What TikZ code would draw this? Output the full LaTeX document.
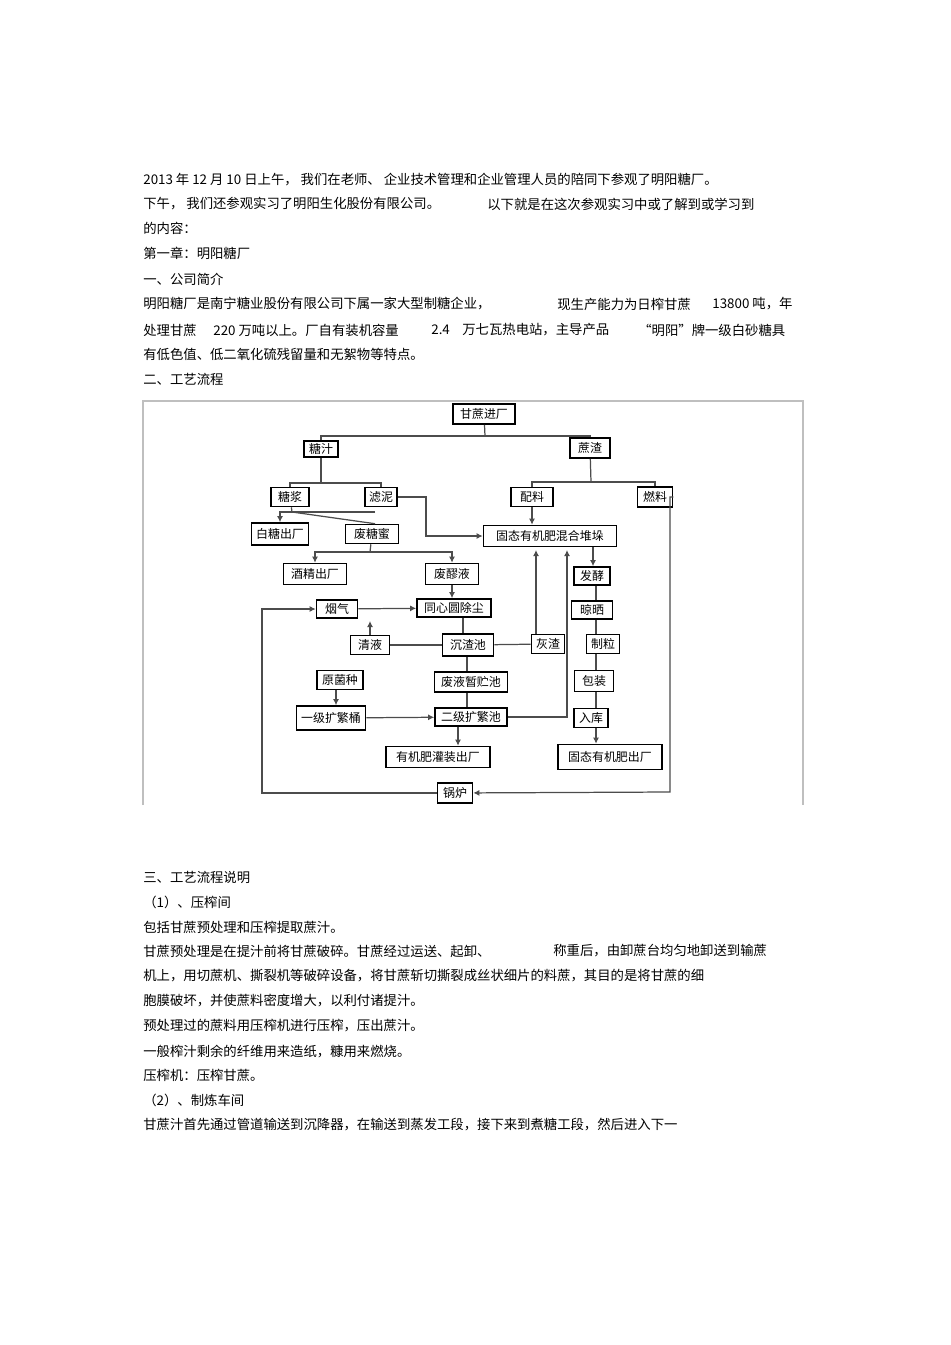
\documentclass[tikz,border=0pt]{standalone}
\usepackage{fontspec}
\setmainfont{Noto Sans CJK SC}
\usetikzlibrary{arrows.meta}
\begin{document}
\begin{tikzpicture}[x=0.02cm, y=-0.02cm]
		\tikzset{bx/.style 2 args={draw=black, line width=0.9pt, inner sep=0pt, minimum width=#1*0.02cm, minimum height=#2*0.02cm, font=\fontsize{6.8}{8}\selectfont},
			ln/.style={draw=black!70, line width=0.7pt},
			ar/.style={ln, -{Latex[length=3.5pt, width=3.5pt]}},
			tx/.style={anchor=west, inner sep=0pt, font=\fontsize{7.6}{9}\selectfont}};
		\useasboundingbox (0,0) rectangle (950,1345);

		% page text
		\node[tx] (t1) at (143,180) {2013 年 12 月 10 日上午，\ 我们在老师、\ 企业技术管理和企业管理人员的陪同下参观了明阳糖厂。};
		\node[tx] (t2) at (143,204) {下午，\ 我们还参观实习了明阳生化股份有限公司。};
		\node[tx] (t2b) at (487,204) {以下就是在这次参观实习中或了解到或学习到};
		\node[tx] (t3) at (143,228) {的内容：};
		\node[tx] (t4) at (143,253) {第一章：明阳糖厂};
		\node[tx] (t5) at (143,279) {一、公司简介};
		\node[tx] (t6) at (143,304) {明阳糖厂是南宁糖业股份有限公司下属一家大型制糖企业，};
		\node[tx] (t6b) at (557,304) {现生产能力为日榨甘蔗};
		\node[tx] (t6c) at (712,304) {13800 吨，年};
		\node[tx] (t7) at (143,330) {处理甘蔗};
		\node[tx] (t7b) at (213,330) {220 万吨以上。厂自有装机容量};
		\node[tx] (t7c) at (431,330) {2.4};
		\node[tx] (t7d) at (462,330) {万七瓦热电站，主导产品};
		\node[tx] (t7e) at (638,330) {“明阳”牌一级白砂糖具};
		\node[tx] (t8) at (143,354) {有低色值、低二氧化硫残留量和无絮物等特点。};
		\node[tx] (t9) at (143,379) {二、工艺流程};

		\node[tx] (s1) at (143,877) {三、工艺流程说明};
		\node[tx] (s2) at (143,902) {（1）、压榨间};
		\node[tx] (s3) at (143,927) {包括甘蔗预处理和压榨提取蔗汁。};
		\node[tx] (s4) at (143,951) {甘蔗预处理是在提汁前将甘蔗破碎。甘蔗经过运送、起卸、};
		\node[tx] (s4b) at (553,951) {称重后，由卸蔗台均匀地卸送到输蔗};
		\node[tx] (s5) at (143,976) {机上，用切蔗机、撕裂机等破碎设备，将甘蔗斩切撕裂成丝状细片的料蔗，其目的是将甘蔗的细};
		\node[tx] (s6) at (143,1001) {胞膜破坏，并使蔗料密度增大，以利付诸提汁。};
		\node[tx] (s7) at (143,1026) {预处理过的蔗料用压榨机进行压榨，压出蔗汁。};
		\node[tx] (s8) at (143,1051) {一般榨汁剩余的纤维用来造纸，糠用来燃烧。};
		\node[tx] (s9) at (143,1075) {压榨机：压榨甘蔗。};
		\node[tx] (s10) at (143,1100) {（2）、制炼车间};
		\node[tx] (s11) at (143,1125) {甘蔗汁首先通过管道输送到沉降器，在输送到蒸发工段，接下来到煮糖工段，然后进入下一};

		% frame of the flow chart
		\draw[black!25, line width=0.6pt] (143,805) -- (143,401) -- (803,401) -- (803,805);

		% boxes
		\node[bx={62}{20}] (jinchang) at (484,414) {甘蔗进厂};
		\node[bx={34}{16}] (tangzhi) at (321,449) {糖汁};
		\node[bx={40}{20}] (zhazha) at (590,448) {蔗渣};
		\node[bx={38}{19}] (tangjiang) at (290,497) {糖浆};
		\node[bx={32}{19}] (luni) at (381,497) {滤泥};
		\node[bx={42}{19}] (peiliao) at (532,497) {配料};
		\node[bx={35}{20}] (ranliao) at (655,497) {燃料};
		\node[bx={57}{22}] (baitang) at (280,534) {白糖出厂};
		\node[bx={53}{19}] (feitangmi) at (372,534) {废糖蜜};
		\node[bx={133}{21}] (duiduo) at (550,536) {固态有机肥混合堆垛};
		\node[bx={63}{21}] (jiujing) at (315,574) {酒精出厂};
		\node[bx={53}{21}] (feilao) at (452,574) {废醪液};
		\node[bx={36}{18}] (fajiao) at (592,576) {发酵};
		\node[bx={41}{18}] (yanqi) at (337,609) {烟气};
		\node[bx={74}{18}] (chuchen) at (454,608) {同心圆除尘};
		\node[bx={41}{18}] (liangshai) at (592,610) {晾晒};
		\node[bx={39}{19}] (qingye) at (370,645) {清液};
		\node[bx={51}{22}] (chenzha) at (468,645) {沉渣池};
		\node[bx={33}{19}] (huizha) at (548,644) {灰渣};
		\node[bx={33}{19}] (zhili) at (603,644) {制粒};
		\node[bx={46}{19}] (yuanjun) at (340,680) {原菌种};
		\node[bx={73}{20}] (zhuchi) at (471,682) {废液暂贮池};
		\node[bx={39}{21}] (baozhuang) at (594,681) {包装};
		\node[bx={69}{24}] (yiji) at (331,718) {一级扩繁桶};
		\node[bx={72}{18}] (erji) at (471,717) {二级扩繁池};
		\node[bx={34}{19}] (ruku) at (591,718) {入库};
		\node[bx={104}{21}] (guanzhuang) at (438,757) {有机肥灌装出厂};
		\node[bx={104}{25}] (gutai) at (610,757) {固态有机肥出厂};
		\node[bx={35}{20}] (guolu) at (455,793) {锅炉};

		% connectors
		\draw[ln] (jinchang) -- (485,436);
		\draw[ln] (tangzhi.north) |- (485,436) -| (zhazha.north);
		\draw[ln] (tangzhi) -- (321,483);
		\draw[ln] (tangjiang.north) |- (321,483) -| (luni.north);
		\draw[ln] (zhazha) -- (591,482);
		\draw[ln] (peiliao.north) |- (591,482) -| (ranliao.north);

		\draw[ln] (tangjiang) -- (292,512);
		\draw[ar] (375,512) -- (280,512) -- (baitang.north -| 280,0);
		\draw[ln] (292,512) -- (feitangmi.north -| 375,0);
		\draw[ar] (luni) -- (426,497) |- (duiduo);
		\draw[ar] (peiliao) -- (duiduo.north -| peiliao);

		\draw[ln] (feitangmi) -- (370,552);
		\draw[ar] (370,552) -| (jiujing.north);
		\draw[ar] (370,552) -| (feilao.north);
		\draw[ar] (feilao) -- (chuchen.north -| feilao);

		\draw[ar] (yanqi) -- (chuchen);
		\draw[ar] (guolu) -| (262,609) -- (yanqi);
		\draw[ar] (qingye) -- (370,621);
		\draw[ln] (chuchen.south -| 463,0) -- (chenzha.north -| 463,0);
		\draw[ln] (qingye) -- (chenzha);
		\draw[ln] (chenzha) -- (huizha);
		\draw[ar] (huizha.north -| 536,0) -- (536,550);
		\draw[ln] (chenzha.south -| 467,0) -- (zhuchi.north -| 467,0);
		\draw[ln] (zhuchi.south -| 467,0) -- (erji.north -| 467,0);
		\draw[ar] (erji) -- (567,717) -- (567,550);
		\draw[ar] (yuanjun.south -| 336,0) -- (yiji.north -| 336,0);
		\draw[ar] (yiji) -- (erji);
		\draw[ar] (erji.south -| 458,0) -- (guanzhuang.north -| 458,0);

		\draw[ar] (ranliao.east) ++(0,0) -- (670,497) -- (670,792) -- (guolu);
		\draw[ar] (duiduo.south -| 593,0) -- (fajiao.north -| 593,0);
		\draw[ln] (fajiao.south -| 596,0) -- (liangshai.north -| 596,0);
		\draw[ln] (liangshai.south -| 596,0) -- (zhili.north -| 596,0);
		\draw[ln] (zhili.south -| 596,0) -- (baozhuang.north -| 596,0);
		\draw[ln] (baozhuang.south -| 596,0) -- (ruku.north -| 596,0);
		\draw[ar] (ruku.south -| 596,0) -- (gutai.north -| 596,0);
	\end{tikzpicture}
\end{document}
